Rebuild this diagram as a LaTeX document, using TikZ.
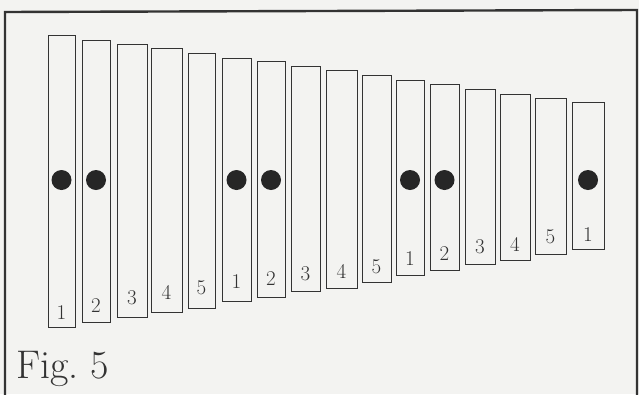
\documentclass[tikz,border=0pt]{standalone}
\usetikzlibrary{calc}
\definecolor{paper}{HTML}{F3F3F1}
\definecolor{ink}{HTML}{333333}
\definecolor{dotink}{HTML}{262626}
\begin{document}
\begin{tikzpicture}[x=1pt,y=-1pt,
  barbox/.style={draw=ink, line width=0.9pt, fill=paper, inner sep=0pt, outer sep=0pt, rectangle},
  knob/.style={circle, fill=dotink, inner sep=0pt, minimum size=20pt},
  num/.style={anchor=base, text=ink, font=\fontsize{21}{21}\selectfont, inner sep=0pt},
  caption/.style={anchor=base west, text=ink, font=\fontsize{40}{40}\selectfont, inner sep=0pt}]
\useasboundingbox (0,0) rectangle (639,394);
\fill[paper] (0,0) rectangle (639,394);
% frame
\draw[ink, line width=2.4pt] (5,396) -- (5,12) -- (637,10) -- (637,396);
% bars: left/right/top/bottom/label/baseline offset
\foreach \i/\l/\r/\t/\b/\n/\o in {
  1/48/75/35/327/1/8,
  2/82/110/40/322/2/10,
  3/117/147/44/317/3/13,
  4/151/182/48/312/4/13,
  5/188/215/53/308/5/14,
  6/222/251/58/301/1/13,
  7/257/285/61/297/2/12,
  8/291/320/66/291/3/11,
  9/326/357/70/288/4/10,
  10/362/391/75/282/5/9,
  11/396/424/80/275/1/10,
  12/430/459/84/270/2/10,
  13/465/495/89/264/3/11,
  14/500/530/94/260/4/9,
  15/535/566/98/254/5/11,
  16/572/604/102/249/1/8}{
  \node[barbox, minimum width={(\r-\l)*1pt}, minimum height={(\b-\t)*1pt}]
    (b\i) at ({(\l+\r)/2},{(\t+\b)/2}) {};
  \node[num] (n\i) at ($(b\i.south)+(0,-\o)$) {\n};
}
% knobs
\foreach \i in {1,2,6,7,11,12,16}{
  \node[knob] (k\i) at (b\i.center |- 0,180) {};
}
\node[caption] (fig) at (16,378) {Fig.\ 5};
\end{tikzpicture}
\end{document}
